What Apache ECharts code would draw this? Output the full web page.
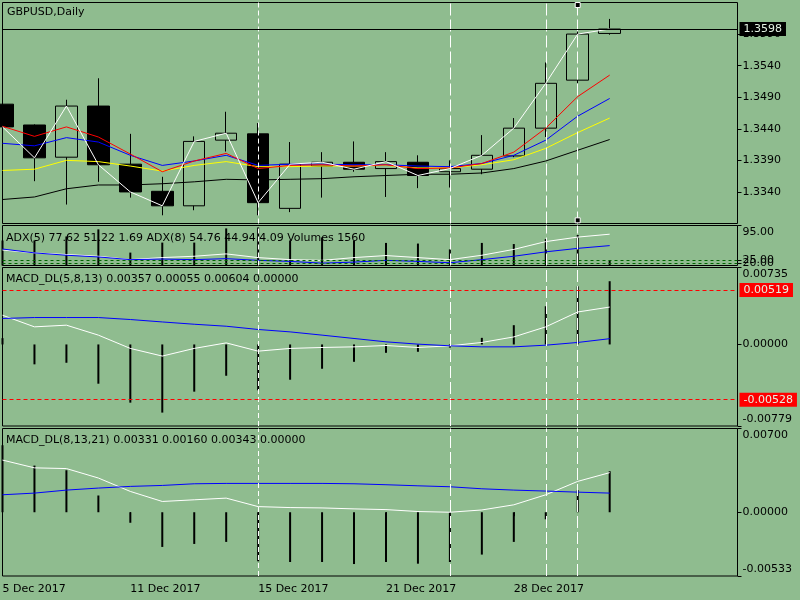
<!DOCTYPE html>
<html>
<head>
<meta charset="utf-8">
<title>GBPUSD,Daily</title>
<script src="https://cdn.jsdelivr.net/npm/echarts@6/dist/echarts.min.js"></script>
<style>
    html, body { margin: 0; padding: 0; background: #8fbc8f; }
    #chart { width: 800px; height: 600px; }
</style>
</head>
<body>
<div id="chart"></div>
<script>
    // bars (4 empty slots on the right like the terminal's shift)
    var dates = ['5 Dec 2017', '6 Dec 2017', '7 Dec 2017', '8 Dec 2017', '11 Dec 2017', '12 Dec 2017',
        '13 Dec 2017', '14 Dec 2017', '15 Dec 2017', '18 Dec 2017', '19 Dec 2017', '20 Dec 2017',
        '21 Dec 2017', '22 Dec 2017', '26 Dec 2017', '27 Dec 2017', '28 Dec 2017', '29 Dec 2017',
        '2 Jan 2018', '3 Jan 2018', '', '', '', ''];

    var opens  = [1.3479, 1.3446, 1.3395, 1.3476, 1.3384, 1.3341, 1.3318, 1.3422, 1.3432, 1.3314,
                  1.3381, 1.3387, 1.3377, 1.3387, 1.3372, 1.3376, 1.3397, 1.3441, 1.3517, 1.3591];
    var closes = [1.3443, 1.3394, 1.3476, 1.3383, 1.3340, 1.3318, 1.3420, 1.3433, 1.3323, 1.3384,
                  1.3387, 1.3376, 1.3388, 1.3366, 1.3377, 1.3398, 1.3441, 1.3512, 1.3590, 1.3598];
    var lows   = [1.3435, 1.3357, 1.3320, 1.3356, 1.3331, 1.3303, 1.3311, 1.3404, 1.3303, 1.3308,
                  1.3331, 1.3372, 1.3332, 1.3346, 1.3347, 1.3368, 1.3395, 1.3427, 1.3512, 1.3589];
    var highs  = [1.3488, 1.3447, 1.3486, 1.3520, 1.3432, 1.3364, 1.3428, 1.3467, 1.3449, 1.3419,
                  1.3403, 1.3420, 1.3403, 1.3398, 1.3390, 1.3430, 1.3457, 1.3545, 1.3601, 1.3614];

    var maRed    = [1.3444, 1.3428, 1.3443, 1.3427, 1.3400, 1.3372, 1.3389, 1.3401, 1.3377, 1.3382,
                    1.3383, 1.3381, 1.3383, 1.3377, 1.3378, 1.3385, 1.3403, 1.3441, 1.3491, 1.3525];
    var maBlue   = [1.3417, 1.3413, 1.3426, 1.3419, 1.3398, 1.3382, 1.3389, 1.3398, 1.3382, 1.3384,
                    1.3384, 1.3383, 1.3383, 1.3381, 1.3380, 1.3385, 1.3398, 1.3422, 1.3460, 1.3488];
    var maYellow = [1.3374, 1.3376, 1.3390, 1.3388, 1.3381, 1.3373, 1.3382, 1.3388, 1.3380, 1.3380,
                    1.3381, 1.3381, 1.3382, 1.3378, 1.3378, 1.3383, 1.3391, 1.3409, 1.3434, 1.3457];
    var maBlack  = [1.3328, 1.3332, 1.3345, 1.3351, 1.3351, 1.3353, 1.3356, 1.3360, 1.3359, 1.3360,
                    1.3361, 1.3364, 1.3366, 1.3368, 1.3368, 1.3370, 1.3377, 1.3389, 1.3406, 1.3423];

    var adx5 = [46.0, 40.2, 37.0, 33.5, 26.7, 30.8, 33.5, 38.2, 30.8, 26.7,
                25.3, 30.8, 34.9, 30.8, 26.7, 35.5, 47.2, 62.8, 71.8, 77.62];
    var adx8 = [48.0, 40.2, 35.5, 32.1, 26.7, 27.9, 26.7, 28.7, 25.3, 23.2,
                19.7, 21.8, 25.3, 23.2, 20.5, 26.7, 33.5, 42.3, 49.3, 54.76];
    var adxLevels = [25, 20];
    var volumes = [7750, 7750, 9000, 11200, 4000, 7100, 7100, 11500, 11800, 7750,
                   8700, 7750, 7000, 6800, 5000, 7000, 6650, 8200, 9450, 1560];

    var macd1Main   = [0.00279, 0.00168, 0.00184, 0.00089, -0.00038, -0.00111, -0.00038, 0.00015, -0.00064, -0.00038,
                       -0.00029, -0.00023, -0.00010, -0.00029, -0.00013, 0.00019, 0.00072, 0.00168, 0.00310, 0.00357];
    var macd1Signal = [0.00248, 0.00257, 0.00257, 0.00257, 0.00238, 0.00215, 0.00193, 0.00174, 0.00143, 0.00120,
                       0.00089, 0.00057, 0.00025, 0.00003, -0.00013, -0.00023, -0.00023, -0.00007, 0.00019, 0.00055];
    var macd1Hist   = [0.00060, -0.00190, -0.00175, -0.00375, -0.00556, -0.00651, -0.00451, -0.00299, -0.00438, -0.00337,
                       -0.00232, -0.00166, -0.00080, -0.00070, -0.00030, 0.00063, 0.00184, 0.00365, 0.00555, 0.00604];
    var macd1Levels = [0.00519, -0.00528];

    var macd2Main   = [0.00436, 0.00371, 0.00365, 0.00286, 0.00174, 0.00090, 0.00104, 0.00118, 0.00047, 0.00039,
                       0.00036, 0.00028, 0.00022, 0.00006, 0.00000, 0.00019, 0.00062, 0.00146, 0.00258, 0.00331];
    var macd2Signal = [0.00146, 0.00160, 0.00185, 0.00202, 0.00216, 0.00224, 0.00238, 0.00241, 0.00241, 0.00241,
                       0.00241, 0.00238, 0.00230, 0.00221, 0.00213, 0.00196, 0.00185, 0.00177, 0.00168, 0.00160];
    var macd2Hist   = [0.00560, 0.00390, 0.00351, 0.00140, -0.00088, -0.00290, -0.00265, -0.00248, -0.00410, -0.00416,
                       -0.00416, -0.00433, -0.00416, -0.00430, -0.00416, -0.00354, -0.00248, -0.00059, 0.00185, 0.00343];

    var priceTicks = [1.3340, 1.3390, 1.3440, 1.3490, 1.3540, 1.3590];
    var separators = [8, 14, 17, 18];

    (function () {
        var chart = echarts.init(document.getElementById('chart'));
        var FONT = 'DejaVu Sans';
        var BG = '#8fbc8f';

        var ohlc = opens.map(function (o, i) { return [o, closes[i], lows[i], highs[i]]; });

        function labelEvery4(idx) { return idx % 4 === 0 && idx < closes.length; }

        // top label pushed down, bottom label pushed up, like the terminal does
        function edgeFormatter(min, max, digits) {
            return function (v) {
                var s = v.toFixed(digits);
                if (Math.abs(v - max) < 1e-9) return '{dn|' + s + '}';
                if (Math.abs(v - min) < 1e-9) return '{up|' + s + '}';
                return s;
            };
        }
        var edgeRich = { dn: { padding: [13, 0, 0, 0] }, up: { padding: [0, 0, 13, 0] } };

        function sepLines() {
            return separators.map(function (k, n) {
                return {
                    xAxis: dates[k],
                    lineStyle: { color: '#fff', width: 1, type: n === 0 ? [5, 3] : [12, 4] }
                };
            });
        }
        function sepMarkLine(extra) {
            return {
                silent: true, symbol: 'none', animation: false, precision: 6,
                label: { show: false },
                data: sepLines().concat(extra || [])
            };
        }

        var grids = [
            { top: 2.5, height: 221 },
            { top: 225.5, height: 40 },
            { top: 267.5, height: 158.5 },
            { top: 428.5, height: 147.5 }
        ].map(function (g) {
            return {
                left: 2.5, width: 735, top: g.top, height: g.height,
                show: true, borderColor: '#000', borderWidth: 1,
                backgroundColor: 'transparent', containLabel: false, outerBoundsMode: 'none'
            };
        });

        var xAxes = grids.map(function (g, i) {
            var last = i === grids.length - 1;
            return {
                type: 'category', gridIndex: i, data: dates, boundaryGap: false,
                axisLine: { show: false },
                axisTick: { show: last, interval: labelEvery4, length: 4, lineStyle: { color: '#000' } },
                axisLabel: {
                    show: last, interval: labelEvery4, align: 'left', margin: 8,
                    color: '#000', fontFamily: FONT, fontSize: 11
                },
                splitLine: { show: false }
            };
        });

        function rightAxis(grid, min, max, ticks, fmt) {
            return {
                type: 'value', gridIndex: grid, position: 'right', min: min, max: max,
                axisLine: { show: false },
                splitLine: { show: false },
                axisTick: { show: true, customValues: ticks, length: 4, lineStyle: { color: '#000' } },
                axisLabel: {
                    customValues: ticks, formatter: fmt, rich: edgeRich, margin: 5,
                    color: '#000', fontFamily: FONT, fontSize: 11
                }
            };
        }

        var yAxes = [
            rightAxis(0, 1.3290, 1.3640, priceTicks, function (v) { return v.toFixed(4); }),
            rightAxis(1, 15, 95, [95, 25, 20, 15], edgeFormatter(15, 95, 2)),
            { type: 'value', gridIndex: 1, min: 0, max: 12400, show: false },
            rightAxis(2, -0.00779, 0.00735, [0.00735, 0, -0.00779], edgeFormatter(-0.00779, 0.00735, 5)),
            rightAxis(3, -0.00533, 0.00700, [0.00700, 0, -0.00533], edgeFormatter(-0.00533, 0.00700, 5))
        ];

        function line(name, x, y, data, color) {
            return {
                name: name, type: 'line', xAxisIndex: x, yAxisIndex: y, data: data,
                symbol: 'none', silent: true, animation: false,
                lineStyle: { color: color, width: 1 }
            };
        }
        function hist(name, x, y, data) {
            return {
                name: name, type: 'bar', xAxisIndex: x, yAxisIndex: y, data: data,
                barWidth: 2, silent: true, animation: false,
                itemStyle: { color: '#000' }
            };
        }
        function levelLabel(bg) {
            return {
                show: true, position: 'end', distance: 2,
                formatter: function (p) { return Number(p.value).toFixed(5); },
                backgroundColor: bg, color: '#e4f2e4', padding: [2, 4, 1, 4],
                fontFamily: FONT, fontSize: 11
            };
        }

        var titleStyle = { color: '#000', fontFamily: FONT, fontSize: 11, fontWeight: 'normal' };

        var option = {
            backgroundColor: BG,
            animation: false,
            title: [
                { text: 'GBPUSD,Daily', left: 7, top: 7, padding: 0, textStyle: titleStyle },
                { text: 'ADX(5) 77.62 51.22 1.69 ADX(8) 54.76 44.94 4.09 Volumes 1560', left: 6, top: 233, padding: 0, textStyle: titleStyle },
                { text: 'MACD_DL(5,8,13) 0.00357 0.00055 0.00604 0.00000', left: 6, top: 274, padding: 0, textStyle: titleStyle },
                { text: 'MACD_DL(8,13,21) 0.00331 0.00160 0.00343 0.00000', left: 6, top: 435, padding: 0, textStyle: titleStyle }
            ],
            grid: grids,
            xAxis: xAxes,
            yAxis: yAxes,
            series: [
                {
                    name: 'GBPUSD', type: 'candlestick', xAxisIndex: 0, yAxisIndex: 0, data: ohlc,
                    barWidth: 22, silent: true, animation: false,
                    itemStyle: { color: BG, color0: '#000', borderColor: '#000', borderColor0: '#000', borderWidth: 1 },
                    markLine: sepMarkLine([{
                        yAxis: closes[closes.length - 1],
                        lineStyle: { color: '#000', width: 1, type: 'solid' },
                        label: {
                            show: true, position: 'end', distance: 2,
                            formatter: function (p) { return Number(p.value).toFixed(4); },
                            backgroundColor: '#000', color: '#e4f2e4', padding: [2, 4, 1, 4],
                            fontFamily: FONT, fontSize: 11
                        }
                    }]),
                    markPoint: {
                        symbol: 'rect', symbolSize: 5, silent: true, animation: false,
                        label: { show: false },
                        itemStyle: { color: '#000', borderColor: '#fff', borderWidth: 1 },
                        data: [{ coord: [dates[18], 1.3636] }, { coord: [dates[18], 1.3295] }]
                    }
                },
                line('MA black', 0, 0, maBlack, '#000'),
                line('MA yellow', 0, 0, maYellow, '#ffff00'),
                line('MA blue', 0, 0, maBlue, '#0000ff'),
                line('MA red', 0, 0, maRed, '#ff0000'),
                line('Close', 0, 0, closes, '#ffffff'),

                hist('Volumes', 1, 2, volumes),
                Object.assign(line('ADX(5)', 1, 1, adx5, '#ffffff'), {
                    markLine: sepMarkLine(adxLevels.map(function (v) {
                        return { yAxis: v, lineStyle: { color: '#006400', width: 1, type: [3, 3] } };
                    }))
                }),
                line('ADX(8)', 1, 1, adx8, '#0000ff'),

                Object.assign(hist('MACD 5,8,13 hist', 2, 3, macd1Hist), {
                    markLine: sepMarkLine(macd1Levels.map(function (v) {
                        return { yAxis: v, lineStyle: { color: '#ff0000', width: 1, type: [4, 3] }, label: levelLabel('#ff0000') };
                    }))
                }),
                line('MACD 5,8,13', 2, 3, macd1Main, '#ffffff'),
                line('Signal 5,8,13', 2, 3, macd1Signal, '#0000ff'),

                Object.assign(hist('MACD 8,13,21 hist', 3, 4, macd2Hist), { markLine: sepMarkLine() }),
                line('MACD 8,13,21', 3, 4, macd2Main, '#ffffff'),
                line('Signal 8,13,21', 3, 4, macd2Signal, '#0000ff')
            ]
        };

        chart.setOption(option);
        window.addEventListener('resize', chart.resize);
    })();
</script>
</body>
</html>
